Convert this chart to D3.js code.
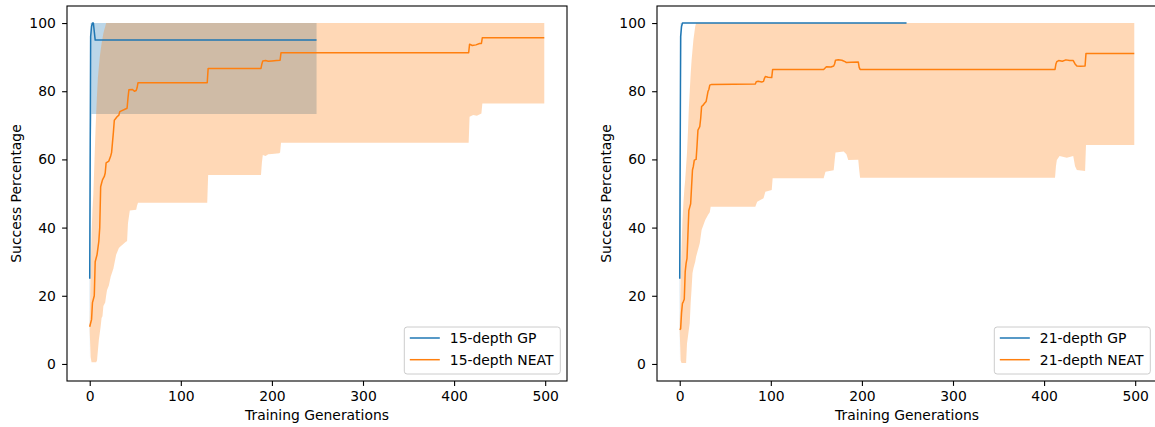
<!DOCTYPE html>
<html>
<head>
<meta charset="utf-8">
<script src="https://cdn.jsdelivr.net/npm/d3@7"></script>
<style>
  html, body { margin: 0; padding: 0; background: #fff; }
  svg { display: block; }
  text { font-family: "DejaVu Sans", sans-serif; fill: #000; }
</style>
</head>
<body>
<svg id="chart" width="1155" height="427"></svg>
<script>
// ---- Data: success percentage per training generation ----
// GP runs: [generation, mean, lower band, upper band]
const gp15 = [
  [0, 25, 0, 60], [1, 96, 62, 100], [2, 99, 73.3, 100], [3, 100, 73.3, 100],
  [4, 100, 73.3, 100], [5, 97.5, 73.3, 100], [6, 95, 73.3, 100], [249, 95, 73.3, 100]
];
const gp21 = [
  [0, 25, 0, 55], [1, 96, 70, 100], [2, 99, 100, 100], [3, 100, 100, 100], [249, 100, 100, 100]
];

// NEAT mean curves: [generation, mean]
const neat15Mean = [
  [0, 10.9], [1, 12], [2, 13], [3, 18], [4, 19], [5, 20], [6, 30], [7, 31], [8, 32],
  [10, 36], [11, 40], [12, 52], [13, 53], [14, 54], [16, 55], [17, 56], [18, 59],
  [21, 59.5], [23, 61], [24, 62], [25, 65], [26, 68], [27, 71.5], [30, 72.5], [32, 73],
  [33, 74], [41, 75], [42, 78], [43, 80.4], [47, 80.5], [49, 80], [51, 80.2], [52, 81],
  [53, 82.5], [129, 82.5], [130, 86.7], [188, 86.7], [189, 88], [190, 88.9], [193, 89],
  [196, 88.8], [200, 88.9], [205, 89], [209, 89.1], [210, 91.3], [416, 91.3], [417, 93.8],
  [420, 93.4], [424, 93.6], [428, 94], [430, 94], [431, 95.7], [499, 95.7]
];
const neat21Mean = [
  [0, 10], [1, 10.3], [2, 15], [3, 17.8], [4, 18.3], [5, 19], [6, 27], [7, 29.5], [8, 31],
  [9, 38], [10, 45], [11, 46], [12, 47], [13, 52], [14, 56.9], [15, 58], [16, 59.8],
  [18, 60], [19, 64], [20, 68.6], [22, 69.6], [23, 72], [24, 75.5], [26, 76], [27, 76.4],
  [29, 77], [30, 78.4], [31, 79.9], [32, 80.5], [33, 81.8], [35, 82], [83, 82.1],
  [84, 82.8], [86, 82.9], [90, 82.7], [92, 82.9], [93, 83.8], [94, 84.3], [97, 84.1],
  [101, 84], [102, 86.4], [158, 86.4], [161, 87.2], [166, 87.1], [169, 87.4], [170, 88],
  [171, 89.1], [174, 89.2], [178, 89.1], [182, 88.6], [183, 88.4], [188, 88.5],
  [196, 88.6], [197, 87], [198, 86.4], [412, 86.4], [413, 88], [414, 88.7], [416, 89],
  [420, 88.8], [424, 89.2], [428, 89], [432, 89], [434, 88], [436, 87.4], [440, 87.3],
  [445, 87.4], [446, 91.1], [499, 91.1]
];

// NEAT spread bands: [generation, lower, upper]
const neat15Band = [
  [0, 9.5, 12], [1, 2, 27], [2, 0.5, 38], [3, 0.5, 45], [4, 0.5, 50], [5, 0.5, 58],
  [6, 0.5, 66], [7, 0.5, 73], [8, 1, 79], [9, 4, 84], [10, 7, 87], [11, 9, 90],
  [12, 11, 92], [13, 13.5, 94], [14, 14, 95.5], [15, 17, 97], [16, 17.5, 98],
  [17, 18, 99], [18, 20, 100], [19, 21.7, 100], [21, 23, 100], [23, 25.6, 100],
  [26, 28, 100], [29, 32, 100], [32, 34, 100], [34, 34.5, 100], [40, 35.9, 100],
  [41, 36, 100], [42, 41.3, 100], [44, 45, 100], [51, 45.2, 100], [52, 46.5, 100],
  [53, 47.3, 100], [129, 47.3, 100], [130, 55.4, 100], [188, 55.4, 100], [189, 59, 100],
  [190, 61.3, 100], [193, 61, 100], [196, 61.5, 100], [200, 61.6, 100], [208, 61.8, 100],
  [209, 62, 100], [210, 64.9, 100], [416, 64.9, 100], [417, 72.5, 100], [421, 73, 100],
  [425, 72.8, 100], [430, 73.5, 100], [431, 76.4, 100], [499, 76.4, 100]
];
const neat21Band = [
  [0, 9.5, 11], [1, 1, 25], [2, 0.3, 34], [3, 0.3, 42], [4, 0.3, 47], [5, 0.3, 51],
  [6, 0.3, 54], [7, 0.3, 58], [8, 6, 62], [9, 8, 68], [10, 10, 75], [11, 12, 80],
  [12, 17.8, 85], [13, 22, 89], [14, 26.6, 92], [15, 28, 95], [16, 29, 97], [17, 30, 99],
  [18, 31.5, 100], [22, 35.4, 100], [24, 39.3, 100], [28, 42.2, 100], [31, 43.7, 100],
  [33, 44.5, 100], [34, 46.1, 100], [83, 46.1, 100], [85, 47.6, 100], [92, 48.6, 100],
  [94, 50.5, 100], [101, 51, 100], [102, 54.5, 100], [158, 54.5, 100], [160, 56.4, 100],
  [169, 56.8, 100], [171, 62, 100], [180, 62.3, 100], [183, 61.5, 100], [185, 59.8, 100],
  [196, 59.9, 100], [197, 57, 100], [198, 54.6, 100], [412, 54.6, 100], [413, 58, 100],
  [414, 59.8, 100], [417, 61, 100], [425, 60.5, 100], [432, 61, 100], [434, 58, 100],
  [436, 56.9, 100], [445, 56.6, 100], [446, 64.2, 100], [499, 64.2, 100]
];

const xTicks = [0, 100, 200, 300, 400, 500];
const yTicks = [0, 20, 40, 60, 80, 100];
const xLabel = "Training Generations";
const yLabel = "Success Percentage";

const panels = [
  { left: 67, gp: gp15, neatMean: neat15Mean, neatBand: neat15Band,
    names: ["15-depth GP", "15-depth NEAT"] },
  { left: 657, gp: gp21, neatMean: neat21Mean, neatBand: neat21Band,
    names: ["21-depth GP", "21-depth NEAT"] }
];

// ---- Layout ----
const blue = "#1f77b4", orange = "#ff7f0e";
const plotW = 500, plotTop = 6, plotBottom = 381;
const fontPx = 13.9;
const svg = d3.select("#chart");

panels.forEach(p => {
  const x = d3.scaleLinear().domain([-24.95, 523.95]).range([p.left, p.left + plotW]);
  const y = d3.scaleLinear().domain([-5, 105]).range([plotBottom, plotTop]);
  const g = svg.append("g");

  const clipId = "clip" + p.left;
  svg.append("clipPath").attr("id", clipId)
    .append("rect").attr("x", p.left).attr("y", plotTop)
    .attr("width", plotW).attr("height", plotBottom - plotTop);
  const plot = g.append("g").attr("clip-path", `url(#${clipId})`);

  // shaded spreads (beneath the lines)
  plot.append("path")
    .datum(p.gp)
    .attr("fill", blue).attr("fill-opacity", 0.3)
    .attr("d", d3.area().x(d => x(d[0])).y0(d => y(d[2])).y1(d => y(d[3])));
  plot.append("path")
    .datum(p.neatBand)
    .attr("fill", orange).attr("fill-opacity", 0.3)
    .attr("d", d3.area().x(d => x(d[0])).y0(d => y(d[1])).y1(d => y(d[2])));

  // mean curves
  const line = d3.line().x(d => x(d[0])).y(d => y(d[1]));
  plot.append("path")
    .datum(p.gp)
    .attr("fill", "none").attr("stroke", blue).attr("stroke-width", 1.5)
    .attr("stroke-linejoin", "round")
    .attr("d", line);
  plot.append("path")
    .datum(p.neatMean)
    .attr("fill", "none").attr("stroke", orange).attr("stroke-width", 1.5)
    .attr("stroke-linejoin", "round")
    .attr("d", line);

  // axes
  const xAxis = g.append("g")
    .attr("transform", `translate(0,${plotBottom})`)
    .call(d3.axisBottom(x).tickValues(xTicks).tickSize(4.9).tickPadding(5.2).tickFormat(d3.format("d")));
  const yAxis = g.append("g")
    .attr("transform", `translate(${p.left},0)`)
    .call(d3.axisLeft(y).tickValues(yTicks).tickSize(4.9).tickPadding(6.3).tickFormat(d3.format("d")));
  [xAxis, yAxis].forEach(a => {
    a.select(".domain").remove();
    a.selectAll("line").attr("stroke", "#000").attr("stroke-width", 1.1);
    a.selectAll("text").attr("font-size", fontPx).attr("font-family", "DejaVu Sans").attr("fill", "#000");
  });

  // frame
  g.append("rect")
    .attr("x", p.left).attr("y", plotTop).attr("width", plotW).attr("height", plotBottom - plotTop)
    .attr("fill", "none").attr("stroke", "#000").attr("stroke-width", 1.1);

  // axis titles
  g.append("text")
    .attr("x", p.left + plotW / 2).attr("y", 420.3)
    .attr("text-anchor", "middle").attr("font-size", fontPx)
    .text(xLabel);
  g.append("text")
    .attr("transform", `translate(${p.left - 46.5},${(plotTop + plotBottom) / 2}) rotate(-90)`)
    .attr("text-anchor", "middle").attr("font-size", fontPx)
    .text(yLabel);

  // legend
  const lx = p.left + plotW - 6.7 - 156, ly = 327;
  const leg = g.append("g");
  leg.append("rect")
    .attr("x", lx).attr("y", ly).attr("width", 156).attr("height", 47)
    .attr("rx", 2.8).attr("ry", 2.8)
    .attr("fill", "#fff").attr("fill-opacity", 0.8)
    .attr("stroke", "#cccccc").attr("stroke-width", 1);
  [blue, orange].forEach((c, i) => {
    const cy = ly + 11 + i * 21.7;
    leg.append("line")
      .attr("x1", lx + 5.5).attr("x2", lx + 35.5).attr("y1", cy).attr("y2", cy)
      .attr("stroke", c).attr("stroke-width", 1.5);
    leg.append("text")
      .attr("x", lx + 45.5).attr("y", cy + 5)
      .attr("font-size", fontPx)
      .text(p.names[i]);
  });
});
</script>
</body>
</html>
